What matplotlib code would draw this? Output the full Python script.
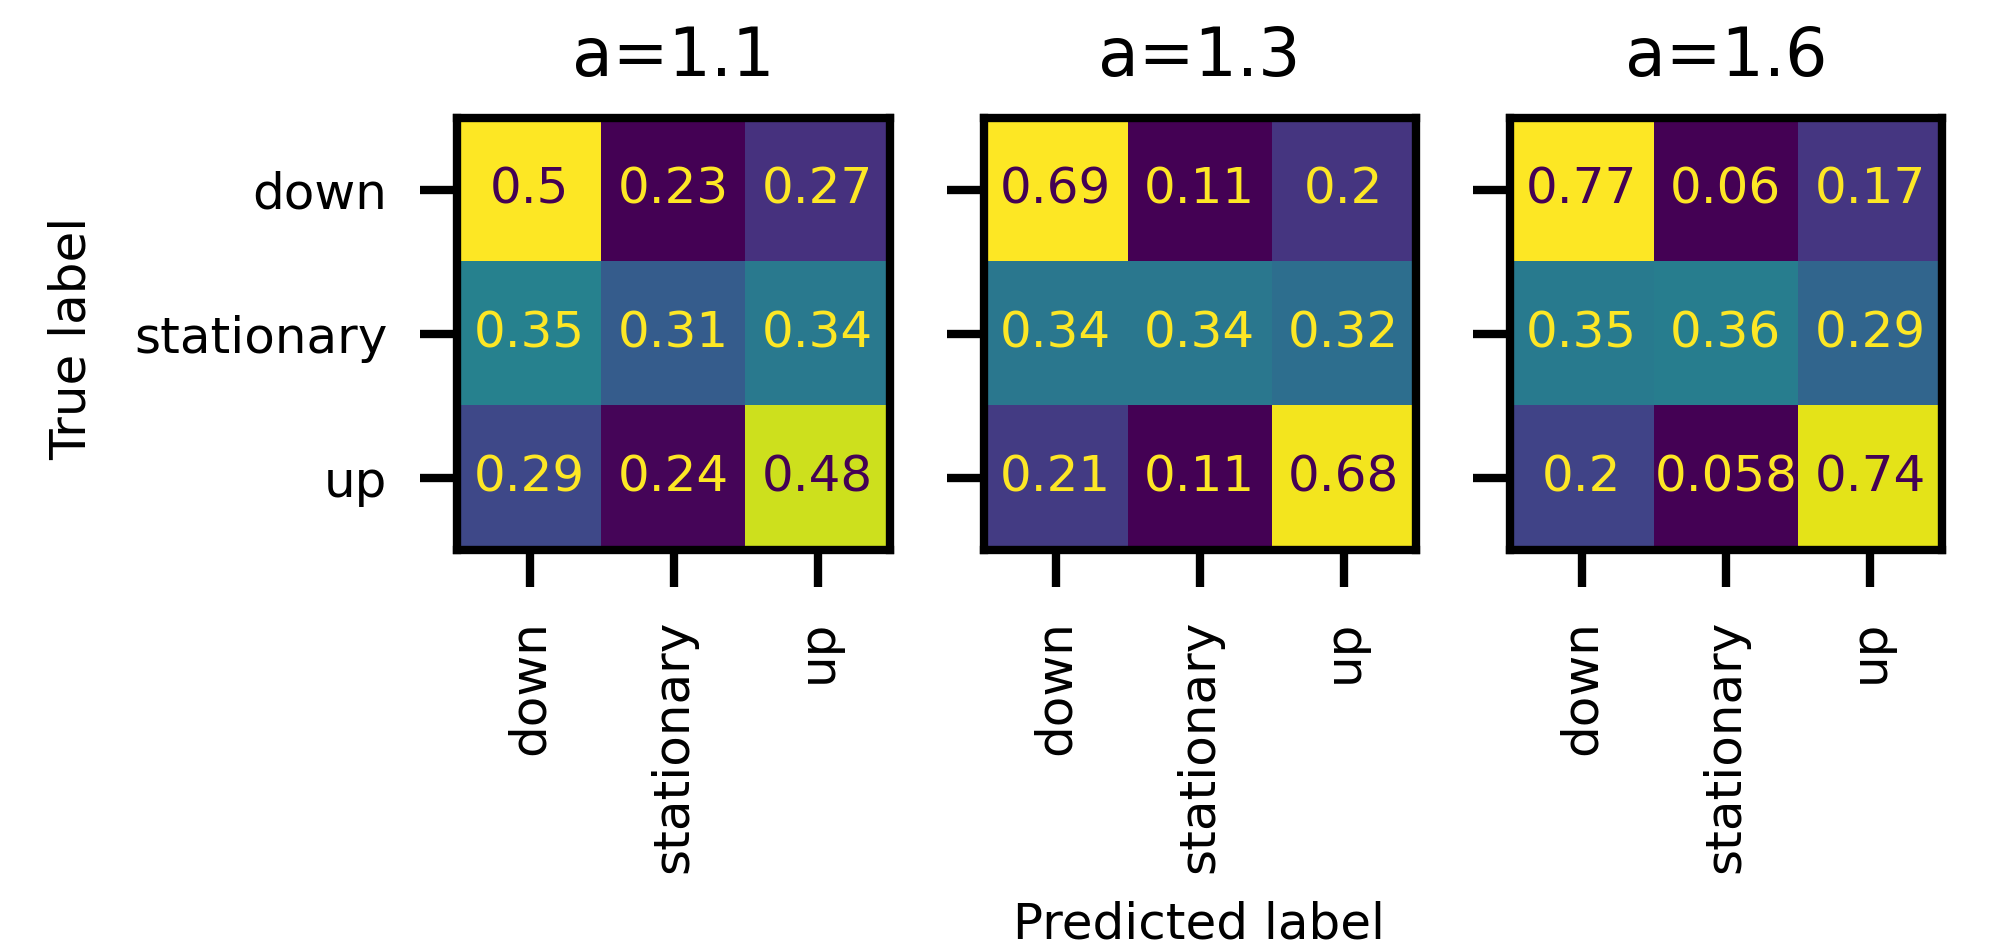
import numpy as np
import matplotlib.pyplot as plt

labels = ['down', 'stationary', 'up']
titles = ['a=1.1', 'a=1.3', 'a=1.6']

cm_11 = [[0.50, 0.232, 0.27],
         [0.35, 0.31, 0.34],
         [0.29, 0.236, 0.48]]
cm_13 = [[0.69, 0.11, 0.20],
         [0.34, 0.34, 0.32],
         [0.21, 0.11, 0.68]]
cm_16 = [[0.77, 0.06, 0.17],
         [0.35, 0.36, 0.29],
         [0.20, 0.058, 0.74]]
matrices = [cm_11, cm_13, cm_16]

plt.rcParams['font.family'] = 'DejaVu Sans'
plt.rcParams['font.size'] = 12

fig, axes = plt.subplots(1, 3, figsize=(1996 / 300, 944 / 300), dpi=300)
fig.subplots_adjust(left=0.2292, right=0.9729, bottom=0.4174, top=0.8755, wspace=0.2173)

cmap = plt.get_cmap('viridis')
for i, (ax, cm, title) in enumerate(zip(axes, matrices, titles)):
    cm = np.array(cm)
    ax.imshow(cm, cmap=cmap, interpolation='nearest')
    vmin, vmax = cm.min(), cm.max()
    thresh = (vmin + vmax) / 2
    for r in range(cm.shape[0]):
        for c in range(cm.shape[1]):
            color = cmap(0) if cm[r, c] > thresh else cmap(1.0)
            ax.text(c, r, format(cm[r, c], '.2g'), ha='center', va='center',
                    color=color, fontsize=12)
    ax.set_xticks(range(len(labels)))
    ax.set_yticks(range(len(labels)))
    ax.set_xticklabels(labels, rotation=90)
    if i == 0:
        ax.set_yticklabels(labels)
    else:
        ax.set_yticklabels([])
    ax.set_title(title, fontsize=16, pad=10)
    ax.tick_params(length=8.8, width=2, pad=8, labelsize=12)
    for s in ax.spines.values():
        s.set_linewidth(2)

fig.text(72 / 1996, 1 - 338 / 944, 'True label', rotation=90, ha='center', va='center', fontsize=12)
fig.text(1199 / 1996, 0.006, 'Predicted label', ha='center', va='baseline', fontsize=12)

fig.savefig('out.png', dpi=300)
